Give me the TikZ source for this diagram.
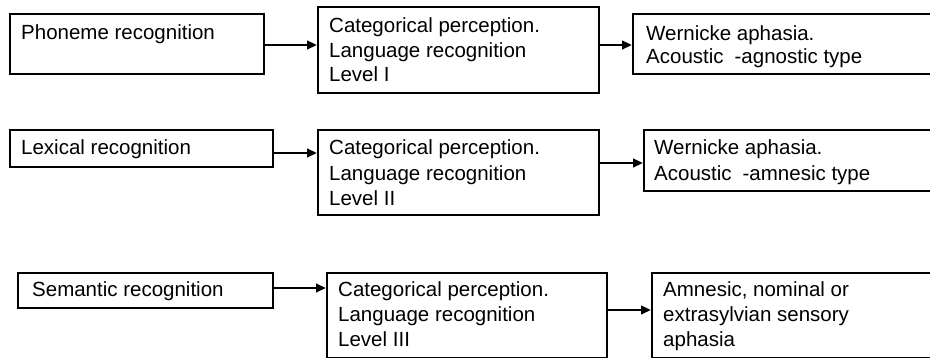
\documentclass[tikz,border=0pt]{standalone}
\usepackage{fontspec}
\setmainfont{Liberation Sans}
\usetikzlibrary{arrows.meta,calc}
\begin{document}
\begin{tikzpicture}[x=1pt,y=-1pt,
  box/.style={draw=black,line width=1.7pt,rectangle,inner sep=0pt,anchor=north west},
  txt/.style={anchor=base west,inner sep=0pt,font=\fontsize{20.5}{25}\selectfont},
  arr/.style={line width=2.6pt,-{Triangle[length=10pt,width=8.5pt]}}]
\useasboundingbox (0,0) rectangle (930,358);
% Row 1
\node[box,minimum width=254pt,minimum height=60pt] (A1) at (9,13) {};
\node[box,minimum width=281pt,minimum height=86pt] (B1) at (317,6) {};
\node[box,minimum width=299pt,minimum height=60pt] (C1) at (632,13) {};
\node[txt] (tA1) at (21,39.5) {Phoneme recognition};
\node[txt] (tB1a) at (329,33) {Categorical perception.};
\node[txt] (tB1b) at (329,57.5) {Language recognition};
\node[txt] (tB1c) at (329,82) {Level I};
\node[txt] (tC1a) at (646,40.5) {Wernicke aphasia.};
\node[txt] (tC1b) at (646,64) {Acoustic\hspace{11pt}-agnostic type};
\draw[arr] (A1.east |- 0,45) -- (B1.west |- 0,45);
\draw[arr] (B1.east |- 0,45) -- (C1.west |- 0,45);
% Row 2
\node[box,minimum width=263pt,minimum height=37pt] (A2) at (9,129) {};
\node[box,minimum width=281pt,minimum height=85pt] (B2) at (317,129) {};
\node[box,minimum width=288pt,minimum height=61pt] (C2) at (643,129) {};
\node[txt] (tA2) at (21,155) {Lexical recognition};
\node[txt] (tB2a) at (329,155) {Categorical perception.};
\node[txt] (tB2b) at (329,180.5) {Language recognition};
\node[txt] (tB2c) at (329,206) {Level II};
\node[txt] (tC2a) at (654,155) {Wernicke aphasia.};
\node[txt] (tC2b) at (654,181) {Acoustic\hspace{11pt}-amnesic type};
\draw[arr] (A2.east |- 0,153) -- (B2.west |- 0,153);
\draw[arr] (B2.east |- 0,163) -- (C2.west |- 0,163);
% Row 3
\node[box,minimum width=255pt,minimum height=35pt] (A3) at (17,272) {};
\node[box,minimum width=280pt,minimum height=85pt] (B3) at (326,272) {};
\node[box,minimum width=280pt,minimum height=85pt] (C3) at (651,272) {};
\node[txt] (tA3) at (32,297) {Semantic recognition};
\node[txt] (tB3a) at (338,297) {Categorical perception.};
\node[txt] (tB3b) at (338,322) {Language recognition};
\node[txt] (tB3c) at (338,347) {Level III};
\node[txt] (tC3a) at (663,297) {Amnesic, nominal or};
\node[txt] (tC3b) at (663,322) {extrasylvian sensory};
\node[txt] (tC3c) at (663,347) {aphasia};
\draw[arr] (A3.east |- 0,288) -- (B3.west |- 0,288);
\draw[arr] (B3.east |- 0,310) -- (C3.west |- 0,310);
\end{tikzpicture}
\end{document}
